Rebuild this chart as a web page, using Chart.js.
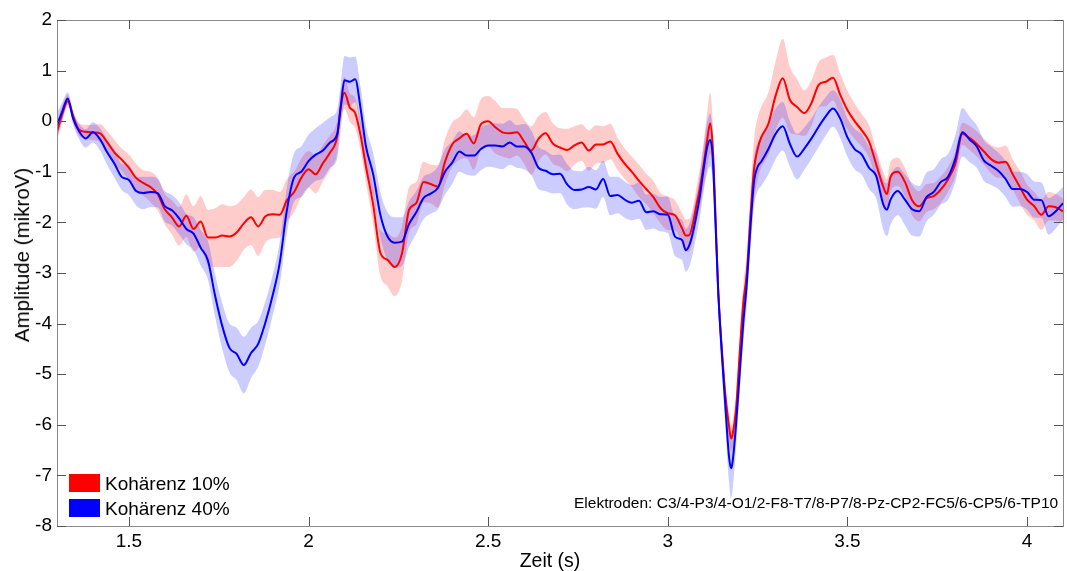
<!DOCTYPE html>
<html>
<head>
<meta charset="utf-8">
<script src="https://cdn.jsdelivr.net/npm/chart.js@4.4.1/dist/chart.umd.min.js"></script>
<style>
html,body{margin:0;padding:0;background:#fff;}
#wrap{position:relative;width:1067px;height:571px;font-family:"Liberation Sans",Arial,sans-serif;}
canvas{position:absolute;left:0;top:0;}
.sw{position:absolute;width:31px;height:18px;}
.lt{position:absolute;font-size:19px;line-height:19px;color:#000;white-space:nowrap;}
#elek{position:absolute;left:574px;top:494px;font-size:15.5px;line-height:18px;color:#000;white-space:nowrap;}
#ytitle{position:absolute;left:22px;top:255px;font-size:20.5px;line-height:22px;color:#000;white-space:nowrap;transform:translate(-50%,-50%) rotate(-90deg);}
#xtitle{position:absolute;left:550px;top:560px;font-size:19.5px;line-height:22px;color:#000;white-space:nowrap;transform:translate(-50%,-50%);}
</style>
</head>
<body>
<div id="wrap">
<canvas id="c" width="1067" height="571"></canvas>
<div class="sw" style="left:69px;top:474px;background:#ff0000;"></div>
<div class="lt" style="left:105px;top:474px;">Kohärenz 10%</div>
<div class="sw" style="left:69px;top:499px;background:#0000ff;"></div>
<div class="lt" style="left:105px;top:499px;">Kohärenz 40%</div>
<div id="elek">Elektroden: C3/4-P3/4-O1/2-F8-T7/8-P7/8-Pz-CP2-FC5/6-CP5/6-TP10</div>
<div id="ytitle">Amplitude (mikroV)</div>
<div id="xtitle">Zeit (s)</div>
</div>
<script>
const time = [
1.30,1.315,1.33,1.345,1.36,1.38,1.40,1.42,1.44,1.46,
1.48,1.50,1.52,1.54,1.56,1.58,1.60,1.62,1.64,1.66,
1.68,1.70,1.72,1.74,1.76,1.78,1.80,1.82,1.84,1.86,
1.88,1.90,1.92,1.94,1.96,1.98,2.00,2.02,2.04,2.06,
2.08,2.09,2.10,2.115,2.13,2.145,2.16,2.18,2.20,2.22,
2.24,2.26,2.28,2.30,2.32,2.34,2.36,2.38,2.40,2.42,
2.44,2.46,2.48,2.50,2.52,2.54,2.56,2.58,2.60,2.62,
2.64,2.66,2.68,2.70,2.72,2.74,2.76,2.78,2.80,2.82,
2.84,2.86,2.88,2.90,2.92,2.94,2.96,2.98,3.00,3.02,
3.04,3.05,3.06,3.07,3.08,3.09,3.10,3.11,3.118,3.125,
3.13,3.14,3.15,3.16,3.17,3.176,3.18,3.19,3.20,3.21,
3.22,3.23,3.24,3.25,3.26,3.28,3.30,3.32,3.34,3.36,
3.38,3.40,3.42,3.44,3.46,3.48,3.50,3.52,3.54,3.56,
3.58,3.60,3.61,3.62,3.64,3.66,3.68,3.70,3.72,3.74,
3.76,3.78,3.80,3.82,3.84,3.86,3.88,3.90,3.92,3.94,
3.96,3.98,4.00,4.02,4.04,4.06,4.08,4.10];

const koh10 = [
-0.21,0.15,0.40,0.10,-0.16,-0.21,-0.22,-0.24,-0.42,-0.62,
-0.76,-0.92,-1.12,-1.22,-1.30,-1.44,-1.74,-1.90,-2.08,-1.87,
-2.13,-1.98,-2.30,-2.30,-2.26,-2.28,-2.20,-2.02,-1.90,-2.08,
-1.88,-1.84,-1.85,-1.56,-1.40,-1.12,-0.95,-1.05,-0.83,-0.62,
-0.30,0.30,0.56,0.27,0.16,-0.28,-0.90,-1.65,-2.60,-2.74,
-2.88,-2.62,-1.75,-1.62,-1.20,-1.24,-1.29,-0.80,-0.46,-0.34,
-0.25,-0.44,-0.06,0.00,-0.12,-0.22,-0.24,-0.22,-0.40,-0.58,
-0.35,-0.24,-0.44,-0.52,-0.57,-0.48,-0.42,-0.58,-0.46,-0.46,
-0.40,-0.64,-0.84,-1.00,-1.18,-1.34,-1.50,-1.72,-1.82,-1.86,
-2.12,-2.26,-2.25,-2.02,-1.65,-1.30,-0.85,-0.35,-0.04,-0.50,
-1.30,-3.30,-4.45,-5.40,-6.00,-6.27,-6.20,-5.70,-4.60,-3.60,
-3.00,-1.90,-0.95,-0.55,-0.32,-0.05,0.50,0.85,0.42,0.28,
0.16,0.36,0.72,0.78,0.86,0.52,0.22,0.00,-0.18,-0.40,
-0.85,-1.30,-1.44,-1.10,-1.00,-1.20,-1.56,-1.68,-1.52,-1.48,
-1.35,-1.15,-0.85,-0.25,-0.33,-0.45,-0.60,-0.75,-0.82,-0.80,
-1.05,-1.30,-1.55,-1.68,-1.85,-1.68,-1.70,-1.78];

const koh40 = [
-0.08,0.20,0.45,0.05,-0.18,-0.34,-0.22,-0.36,-0.62,-0.84,
-1.10,-1.16,-1.38,-1.42,-1.40,-1.42,-1.68,-1.76,-1.92,-2.13,
-2.22,-2.50,-2.75,-3.45,-4.05,-4.48,-4.60,-4.82,-4.58,-4.40,
-3.98,-3.45,-2.80,-1.75,-1.11,-1.00,-0.79,-0.66,-0.58,-0.42,
-0.25,0.30,0.81,0.78,0.83,0.25,-0.50,-1.05,-1.85,-2.28,
-2.40,-2.38,-2.03,-1.80,-1.52,-1.43,-1.32,-1.00,-0.82,-0.60,
-0.68,-0.68,-0.55,-0.48,-0.48,-0.50,-0.42,-0.50,-0.50,-0.62,
-0.92,-0.98,-1.05,-1.04,-1.25,-1.36,-1.35,-1.30,-1.35,-1.14,
-1.48,-1.46,-1.55,-1.61,-1.57,-1.80,-1.78,-1.84,-1.85,-2.28,
-2.35,-2.55,-2.45,-2.20,-1.85,-1.45,-0.93,-0.50,-0.37,-0.70,
-1.50,-3.30,-4.55,-5.60,-6.60,-6.86,-6.75,-6.00,-5.00,-4.00,
-3.20,-2.10,-1.20,-0.90,-0.80,-0.55,-0.25,-0.10,-0.45,-0.70,
-0.54,-0.34,-0.11,0.10,0.25,0.05,-0.32,-0.55,-0.66,-0.92,
-1.08,-1.65,-1.75,-1.55,-1.38,-1.55,-1.74,-1.78,-1.50,-1.40,
-1.20,-1.10,-0.75,-0.22,-0.36,-0.50,-0.78,-0.88,-0.98,-1.14,
-1.34,-1.34,-1.40,-1.55,-1.56,-1.88,-1.78,-1.62];

const err10 = [
0.20,0.15,0.12,0.12,0.12,0.14,0.15,0.18,0.22,0.25,
0.22,0.26,0.28,0.25,0.30,0.32,0.30,0.34,0.38,0.42,
0.45,0.50,0.55,0.58,0.62,0.60,0.56,0.52,0.55,0.58,
0.52,0.48,0.45,0.42,0.40,0.38,0.36,0.38,0.36,0.34,
0.32,0.30,0.32,0.28,0.30,0.30,0.32,0.38,0.45,0.52,
0.58,0.55,0.45,0.42,0.40,0.38,0.42,0.45,0.44,0.42,
0.48,0.52,0.50,0.50,0.52,0.48,0.50,0.46,0.44,0.48,
0.45,0.42,0.40,0.38,0.42,0.38,0.36,0.40,0.38,0.36,
0.35,0.32,0.30,0.30,0.32,0.30,0.32,0.30,0.33,0.30,
0.30,0.32,0.32,0.32,0.35,0.40,0.45,0.55,0.60,0.50,
0.40,0.30,0.25,0.25,0.25,0.25,0.28,0.30,0.30,0.35,
0.40,0.50,0.60,0.62,0.60,0.62,0.68,0.78,0.65,0.55,
0.45,0.45,0.45,0.48,0.45,0.42,0.38,0.35,0.32,0.32,
0.30,0.30,0.30,0.30,0.28,0.28,0.30,0.30,0.28,0.26,
0.26,0.25,0.24,0.22,0.24,0.25,0.26,0.28,0.30,0.32,
0.30,0.32,0.30,0.28,0.30,0.28,0.26,0.25];

const err40 = [
0.25,0.18,0.12,0.12,0.15,0.18,0.20,0.22,0.25,0.28,
0.26,0.30,0.28,0.32,0.30,0.28,0.30,0.30,0.32,0.30,
0.32,0.35,0.38,0.42,0.45,0.48,0.52,0.56,0.50,0.45,
0.42,0.40,0.42,0.45,0.48,0.50,0.52,0.52,0.55,0.50,
0.48,0.45,0.48,0.48,0.45,0.42,0.40,0.42,0.45,0.48,
0.50,0.48,0.45,0.42,0.42,0.40,0.42,0.45,0.42,0.40,
0.38,0.40,0.42,0.42,0.44,0.45,0.44,0.42,0.45,0.44,
0.42,0.40,0.38,0.38,0.40,0.38,0.36,0.40,0.38,0.36,
0.38,0.36,0.36,0.35,0.36,0.35,0.34,0.34,0.36,0.38,
0.40,0.42,0.42,0.40,0.40,0.42,0.45,0.50,0.52,0.48,
0.40,0.35,0.35,0.40,0.50,0.60,0.55,0.45,0.40,0.40,
0.42,0.45,0.48,0.48,0.48,0.50,0.50,0.48,0.45,0.45,
0.42,0.40,0.40,0.38,0.36,0.38,0.38,0.40,0.40,0.42,
0.45,0.50,0.52,0.50,0.48,0.50,0.52,0.50,0.48,0.45,
0.45,0.45,0.46,0.48,0.45,0.42,0.40,0.38,0.36,0.36,
0.35,0.34,0.35,0.36,0.35,0.36,0.34,0.32];

const xTicks = [1.5, 2, 2.5, 3, 3.5, 4];
const yTicks = [-8, -7, -6, -5, -4, -3, -2, -1, 0, 1, 2];

const pts = (vals) => time.map((t, i) => ({x: t, y: vals[i]}));
const lo = (m, e) => m.map((v, i) => v - e[i]);
const hi = (m, e) => m.map((v, i) => v + e[i]);

const FONT = '"Liberation Sans", Arial, sans-serif';

const boxTicks = {
  id: 'boxTicks',
  afterDraw(chart) {
    const {ctx, chartArea: a, scales} = chart;
    ctx.save();
    ctx.strokeStyle = '#8a8a8a';
    ctx.lineWidth = 1;
    ctx.strokeRect(Math.round(a.left) + 0.5, Math.round(a.top) + 0.5, Math.round(a.right - a.left), Math.round(a.bottom - a.top));
    ctx.strokeStyle = '#555';
    ctx.beginPath();
    const L = 9;
    xTicks.forEach(v => {
      const x = Math.round(scales.x.getPixelForValue(v)) + 0.5;
      ctx.moveTo(x, a.bottom); ctx.lineTo(x, a.bottom - L);
      ctx.moveTo(x, a.top); ctx.lineTo(x, a.top + L);
    });
    yTicks.forEach(v => {
      const y = Math.round(scales.y.getPixelForValue(v)) + 0.5;
      ctx.moveTo(a.left, y); ctx.lineTo(a.left + L, y);
      ctx.moveTo(a.right, y); ctx.lineTo(a.right - L, y);
    });
    ctx.stroke();
    ctx.restore();
  }
};

const common = {pointRadius: 0, cubicInterpolationMode: 'monotone'};

new Chart(document.getElementById('c'), {
  type: 'line',
  data: {
    datasets: [
      Object.assign({label: 'lo10', data: pts(lo(koh10, err10)), borderWidth: 0, borderColor: 'rgba(0,0,0,0)', fill: false, order: 5}, common),
      Object.assign({label: 'hi10', data: pts(hi(koh10, err10)), borderWidth: 0, borderColor: 'rgba(0,0,0,0)', backgroundColor: 'rgba(255,0,0,0.2)', fill: 0, order: 4}, common),
      Object.assign({label: 'lo40', data: pts(lo(koh40, err40)), borderWidth: 0, borderColor: 'rgba(0,0,0,0)', fill: false, order: 3}, common),
      Object.assign({label: 'hi40', data: pts(hi(koh40, err40)), borderWidth: 0, borderColor: 'rgba(0,0,0,0)', backgroundColor: 'rgba(0,0,255,0.2)', fill: 2, order: 2}, common),
      Object.assign({label: 'Kohärenz 10%', data: pts(koh10), borderColor: '#ff0000', borderWidth: 2, fill: false, order: 1}, common),
      Object.assign({label: 'Kohärenz 40%', data: pts(koh40), borderColor: '#0000ff', borderWidth: 2, fill: false, order: 0}, common)
    ]
  },
  options: {
    responsive: false,
    animation: false,
    devicePixelRatio: 1,
    layout: {padding: {top: 20, right: 4, left: 0, bottom: 0}},
    plugins: {legend: {display: false}, tooltip: {enabled: false}},
    scales: {
      x: {
        type: 'linear', min: 1.3, max: 4.1,
        grid: {display: false, drawTicks: false},
        border: {display: false},
        ticks: {
          stepSize: 0.5, includeBounds: false, padding: 4, color: '#000',
          font: {family: FONT, size: 19}, maxRotation: 0,
          callback: v => (xTicks.includes(Math.round(v * 10) / 10) ? String(Math.round(v * 10) / 10) : null)
        },
        title: {display: false},
        afterFit: s => { s.height = 45; }
      },
      y: {
        type: 'linear', min: -8, max: 2,
        grid: {display: false, drawTicks: false},
        border: {display: false},
        ticks: {stepSize: 1, padding: 5, color: '#000', font: {family: FONT, size: 19}},
        title: {display: false},
        afterFit: s => { s.width = 57; }
      }
    }
  },
  plugins: [boxTicks]
});
</script>
</body>
</html>
